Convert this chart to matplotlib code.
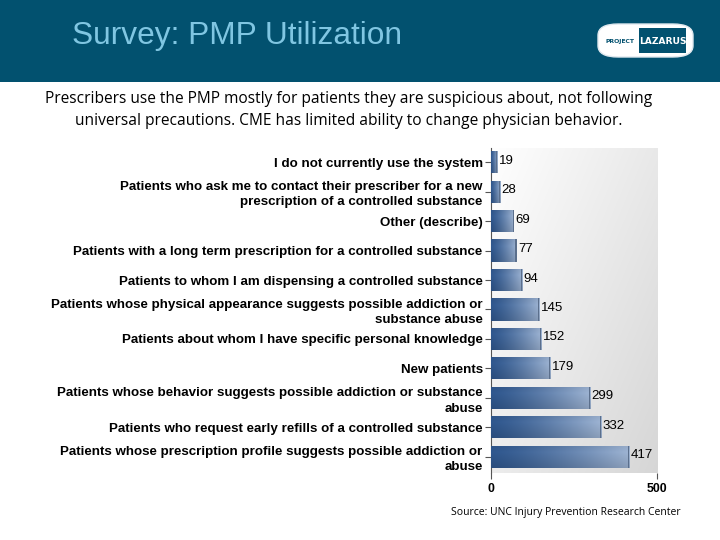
import matplotlib
matplotlib.use("Agg")
import matplotlib.pyplot as plt
import numpy as np
from matplotlib.patches import Rectangle, FancyBboxPatch
from matplotlib.colors import to_rgb

# survey responses, top to bottom
categories = [
    "I do not currently use the system",
    "Patients who ask me to contact their prescriber for a new\nprescription of a controlled substance",
    "Other (describe)",
    "Patients with a long term prescription for a controlled substance",
    "Patients to whom I am dispensing a controlled substance",
    "Patients whose physical appearance suggests possible addiction or\nsubstance abuse",
    "Patients about whom I have specific personal knowledge",
    "New patients",
    "Patients whose behavior suggests possible addiction or substance\nabuse",
    "Patients who request early refills of a controlled substance",
    "Patients whose prescription profile suggests possible addiction or\nabuse",
]
counts = [19, 28, 69, 77, 94, 145, 152, 179, 299, 332, 417]
x_ticks = [0, 500]

title = "Survey: PMP Utilization"
subtitle = ("Prescribers use the PMP mostly for patients they are suspicious about, not following\n"
            "universal precautions. CME has limited ability to change physician behavior.")
source = "Source: UNC Injury Prevention Research Center"

fig = plt.figure(figsize=(7.2, 5.4), dpi=100)
fig.patch.set_facecolor("white")

# header band
fig.patches.append(Rectangle((0, 1 - 82 / 540), 1, 82 / 540, transform=fig.transFigure,
                             facecolor="#02516f", edgecolor="none", zorder=0))
fig.text(72 / 720, 1 - 36 / 540, title, fontsize=22.8, color="#80c6e2",
         family="Liberation Sans", va="center", ha="left")

# logo pill
fig.patches.append(FancyBboxPatch((598 / 720, 1 - 57 / 540), 95 / 720, 33 / 540,
                                  boxstyle="round,pad=0,rounding_size=0.028",
                                  transform=fig.transFigure, facecolor="white",
                                  edgecolor="#dfe8ee", linewidth=1, zorder=1,
                                  mutation_aspect=0.75))
fig.patches.append(Rectangle((639 / 720, 1 - 53 / 540), 47 / 720, 25 / 540,
                             transform=fig.transFigure, facecolor="#02516f",
                             edgecolor="none", zorder=2))
fig.text(620 / 720, 1 - 41 / 540, "PROJECT", fontsize=4.4, fontweight="bold",
         color="#02516f", ha="center", va="center", family="DejaVu Sans Condensed", zorder=3)
fig.text(662.5 / 720, 1 - 41 / 540, "LAZARUS", fontsize=6.6, fontweight="bold",
         color="white", ha="center", va="center", family="DejaVu Sans Condensed", zorder=3)

fig.text(349 / 720, 1 - 110 / 540, subtitle, fontsize=11.2, family="Open Sans",
         ha="center", va="center", linespacing=1.45, color="black")

ax = fig.add_axes([491 / 720, 1 - 473 / 540, 166 / 720, 325 / 540])
y = np.arange(len(categories))
ax.set_xlim(0, 500)
ax.set_ylim(len(categories) - 0.45, -0.48)

# plot area gradient
gx, gy = np.meshgrid(np.linspace(0, 1, 200), np.linspace(0, 1, 200))
g = 1.0 - 0.16 * (0.55 * gx + 0.45 * gy)
bg = np.dstack([g, g, g])
ax.imshow(bg, extent=[0, 500, len(categories) - 0.45, -0.48], aspect="auto", zorder=0)

bars = ax.barh(y, counts, height=0.75, color="#4a70a5", edgecolor="none", zorder=2)

dark = np.array(to_rgb("#30588f"))
light = np.array(to_rgb("#9fb5d4"))
for b in bars:
    x0, y0 = b.get_x(), b.get_y()
    w, h = b.get_width(), b.get_height()
    hx = np.linspace(0, 1, 100)[None, :, None]
    vy = np.linspace(0, 1, 30)[:, None, None]
    col = dark + (light - dark) * hx ** 1.3
    shade = 1.0 - 0.18 * np.abs(vy - 0.3)
    img = np.clip(col * shade, 0, 1)
    im = ax.imshow(img, extent=[x0, x0 + w, y0 + h, y0], aspect="auto", zorder=3)
    im.set_clip_path(b)
    ax.add_patch(Rectangle((x0 + w - 3.5, y0), 3.5, h, facecolor="#5b6f8c",
                           edgecolor="none", zorder=4))

for yi, v in zip(y, counts):
    ax.text(v + 4, yi - 0.05, str(v), fontsize=9.5, family="Liberation Sans",
            va="center", ha="left", color="black", zorder=5)

ax.set_yticks(y)
ax.set_yticklabels(categories, fontsize=9.6, fontweight="bold", family="Liberation Sans",
                   linespacing=1.35)
ax.set_xticks(x_ticks)
ax.set_xticklabels([str(t) for t in x_ticks], fontsize=8.8, fontweight="bold",
                   family="Liberation Sans")
ax.tick_params(axis="y", length=4, width=0.8, color="#555555", pad=2)
ax.tick_params(axis="x", length=4, width=0.8, color="#555555", pad=3)
for s in ["top", "right", "bottom"]:
    ax.spines[s].set_visible(False)
ax.spines["left"].set_color("#555555")
ax.spines["left"].set_linewidth(0.8)

fig.text(681 / 720, 1 - 512 / 540, source, fontsize=7.5, family="Open Sans",
         ha="right", va="center", color="black")

fig.savefig("out.png", dpi=100)
